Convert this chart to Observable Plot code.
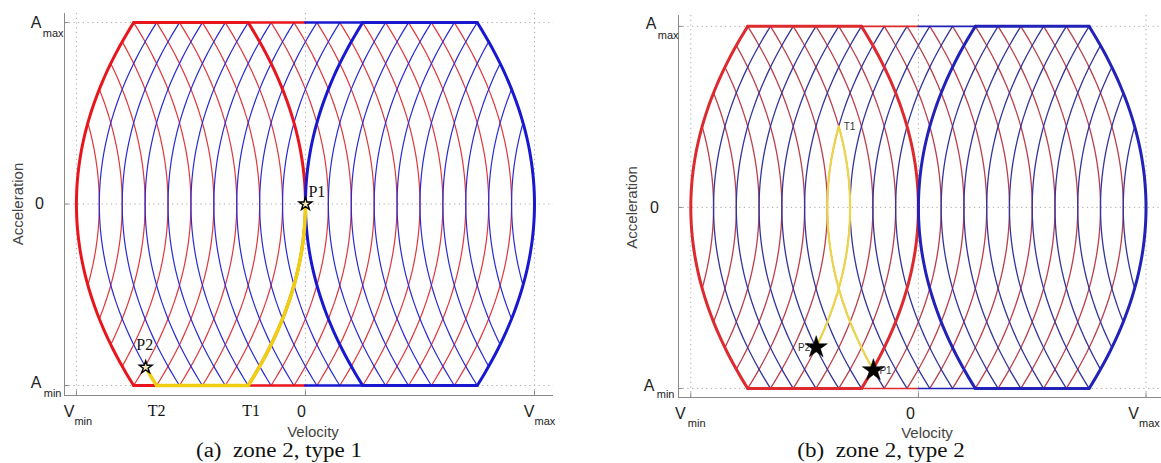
<!DOCTYPE html>
<html><head><meta charset="utf-8">
<script src="https://cdn.jsdelivr.net/npm/d3@7"></script>
<script src="https://cdn.jsdelivr.net/npm/@observablehq/plot@0.6"></script>
<style>
html,body{margin:0;padding:0;background:#fff}
body{width:1161px;height:463px;position:relative;overflow:hidden}
.panel{position:absolute;top:0}
.cap{position:absolute;top:439px;font-family:"Liberation Serif","Times New Roman",serif;font-size:20px;line-height:22px;color:#111;white-space:pre;transform:translateX(-50%) scaleX(1.15)}
</style></head><body>
<div id="pa" class="panel" style="left:0px"></div>
<div id="pb" class="panel" style="left:580px"></div>
<div class="cap" style="left:279px">(a)  zone 2, type 1</div>
<div class="cap" style="left:881px">(b)  zone 2, type 2</div>
<script>
// ---- data (normalised phase plane: velocity units, acceleration in units of Amax) ----
const V_MIN = -10, V_MAX = 10, A_MIN = -1, A_MAX = 1;
const JERK_SPAN = 2.5;               // velocity change along a jerk curve between a=0 and |a|=Amax
const thinOffsets = [-9,-8,-7,-6,-5,-4,-3,-2,-1,0,1,2,3,4,5,6,7,8,9];
const xTickValues = [V_MIN, 0, V_MAX];
const xTickMain = ["V", "0", "V"];
const xTickSub = ["min", "", "max"];
const yTickValues = [A_MIN, 0, A_MAX];
const yTickMain = ["A", "0", "A"];
const yTickSub = ["min", "", "max"];

// panel (a): trajectory pieces, points and switching labels
const trajA = [
  {kind: "jerk", c: 0, sign: -1, from: 0, to: -1},
  {kind: "sat", a: -1, from: -2.5, to: -6.5},
  {kind: "jerk", c: -9, sign: 1, from: -1, to: -0.9}
];
const starsA = [{label: "P1", v: 0, a: 0}, {label: "P2", v: -6.975, a: -0.9}];
const switchesA = [{label: "T2", v: -6.5}, {label: "T1", v: -2.5}];

// panel (b)
const trajB = [
  {kind: "jerk", c: -3, sign: -1, from: -0.773, to: 0.447},
  {kind: "jerk", c: -4, sign: 1, from: -0.9, to: 0.447}
];
const starsB = [{label: "P2", v: -4.49, a: -0.773}, {label: "P1", v: -1.975, a: -0.9}];
const switchesB = [{label: "T1", v: -3.5, a: 0.447}];

// ---- helpers ----
function jerkCurve(c, sign, from, to, id, n = 60) {
  return d3.range(n + 1).map(i => {
    const a = from + (to - from) * i / n;
    return {id, v: c + sign * JERK_SPAN * a * a, a};
  });
}
function satLine(a, from, to, id) { return [{id, v: from, a}, {id, v: to, a}]; }

const SANS = "'Liberation Sans', Arial, Helvetica, sans-serif";
const SERIF = "'Liberation Serif', 'Times New Roman', serif";

function buildPanel(cfg) {
  const J = JERK_SPAN;
  const {xLim, yLim, col, lw, L} = cfg;
  const thinR = thinOffsets.flatMap(c => {
    const l = Math.sqrt(Math.min(1, (c - V_MIN) / (2 * J)));
    return jerkCurve(c, -1, -l, l, "r" + c);
  });
  const thinB = thinOffsets.flatMap(c => {
    const l = Math.sqrt(Math.min(1, (V_MAX - c) / (2 * J)));
    return jerkCurve(c, 1, -l, l, "b" + c);
  });
  const redMain = [...jerkCurve(V_MIN, 1, -1, 1, "rl"), ...jerkCurve(0, -1, -1, 1, "rr"),
    ...satLine(A_MAX, V_MIN + J, -J, "rt"), ...satLine(A_MIN, V_MIN + J, -J, "rb")];
  const redMid = [...satLine(A_MAX, -J, 0, "rmt"), ...satLine(A_MIN, -J, 0, "rmb")];
  const blueMain = [...jerkCurve(0, 1, -1, 1, "bl"), ...jerkCurve(V_MAX, -1, -1, 1, "br"),
    ...satLine(A_MAX, J, V_MAX - J, "bt"), ...satLine(A_MIN, J, V_MAX - J, "bb")];
  const blueMid = [...satLine(A_MAX, 0, J, "bmt"), ...satLine(A_MIN, 0, J, "bmb")];
  const yellow = cfg.traj.flatMap((p, i) => p.kind === "jerk"
    ? jerkCurve(p.c, p.sign, p.from, p.to, "y" + i)
    : satLine(p.a, p.from, p.to, "y" + i));

  const ln = (data, stroke, w) => Plot.line(data, {x: "v", y: "a", z: "id", stroke, strokeWidth: w, strokeLinejoin: "round", strokeLinecap: "round"});
  const x0 = xLim[0], y0 = yLim[0];
  const tickLbl = [];
  yTickValues.forEach((val, i) => {
    const o = L.y[i];
    tickLbl.push(Plot.text([val], {x: () => x0, y: d => d, text: () => yTickMain[i], textAnchor: yTickSub[i] ? "end" : "middle",
      dx: o.dx, dy: o.dy, fontSize: 16, fontFamily: SANS, fill: "#222"}));
    if (yTickSub[i]) tickLbl.push(Plot.text([val], {x: () => x0, y: d => d, text: () => yTickSub[i], textAnchor: "end",
      dx: o.sdx, dy: o.sdy, fontSize: 11, fontFamily: SANS, fill: "#222"}));
  });
  xTickValues.forEach((val, i) => {
    const o = L.x[i];
    tickLbl.push(Plot.text([val], {x: d => d, y: () => y0, text: () => xTickMain[i], textAnchor: xTickSub[i] ? "end" : "middle",
      dx: o.dx, dy: o.dy, fontSize: 16, fontFamily: SANS, fill: "#222"}));
    if (xTickSub[i]) tickLbl.push(Plot.text([val], {x: d => d, y: () => y0, text: () => xTickSub[i], textAnchor: "start",
      dx: o.sdx, dy: o.sdy, fontSize: 11, fontFamily: SANS, fill: "#222"}));
  });

  const starMarks = cfg.stars.map((s, i) => [
    Plot.dot([s], {x: "v", y: "a", symbol: "star", r: cfg.starR, fill: cfg.starFill, stroke: "#000", strokeWidth: cfg.starStroke}),
    Plot.text([s], {x: "v", y: "a", text: "label", dx: L.p[i].dx, dy: L.p[i].dy, textAnchor: L.p[i].anchor,
      fontSize: L.pSize, fontFamily: L.pFont, fill: L.pFill})
  ]).flat();

  const switchMarks = cfg.switches.map((s, i) => Plot.text([s], {x: "v", y: d => d.a === undefined ? y0 : d.a, text: "label",
    dx: L.t[i].dx, dy: L.t[i].dy, textAnchor: L.t[i].anchor, fontSize: L.pSize, fontFamily: L.pFont, fill: L.pFill}));

  return Plot.plot({
    width: cfg.width, height: cfg.height,
    marginLeft: cfg.mL, marginRight: cfg.mR, marginTop: cfg.mT, marginBottom: cfg.mB,
    x: {domain: xLim, axis: null}, y: {domain: yLim, axis: null},
    style: {background: "transparent", overflow: "visible"},
    marks: [
      Plot.ruleX(xTickValues, {stroke: "#a8a8a8", strokeDasharray: "1.2,3.5", strokeWidth: 1}),
      Plot.ruleY(yTickValues, {stroke: "#a8a8a8", strokeDasharray: "1.2,3.5", strokeWidth: 1}),
      Plot.ruleX([x0], {stroke: "#8a8a8a", strokeWidth: 1}),
      Plot.ruleY([y0], {stroke: "#8a8a8a", strokeWidth: 1}),
      Plot.ruleX(xTickValues, {y1: y0, y2: y0 + 0.025, stroke: "#8a8a8a"}),
      Plot.ruleY(yTickValues, {x1: x0, x2: x0 + 0.2, stroke: "#8a8a8a"}),
      ln(thinR, col.thinR, lw.thin),
      ln(thinB, col.thinB, lw.thin),
      ln(redMid, col.red, lw.mid),
      ln(blueMid, col.blue, lw.mid),
      ln(redMain, col.red, lw.thick),
      ln(blueMain, col.blue, lw.thick),
      ln(yellow, col.yellow, lw.yellow),
      ...starMarks,
      ...switchMarks,
      ...tickLbl,
      Plot.text(["Velocity"], {x: () => (xLim[0] + xLim[1]) / 2, y: () => y0, text: d => d, dx: L.vel.dx, dy: L.vel.dy,
        fontSize: 15, fontFamily: SANS, fill: "#444"}),
      Plot.text(["Acceleration"], {x: () => x0, y: () => 0, text: d => d, dx: L.acc.dx, rotate: -90,
        fontSize: 15, fontFamily: SANS, fill: "#444"})
    ]
  });
}

const panelA = buildPanel({
  xLim: [-10.52, 10.83], yLim: [-1.055, 1.05],
  width: 580, height: 440, mL: 64, mR: 27, mT: 13, mB: 45,
  col: {thinR: "#e0363c", thinB: "#2a2ad4", red: "#e8161c", blue: "#1818d0", yellow: "#f0cf10"},
  lw: {thin: 1.2, mid: 2.5, thick: 3, yellow: 3.5},
  traj: trajA, stars: starsA, switches: switchesA,
  starR: 4, starFill: "#f4e8b8", starStroke: 1.4,
  L: {
    y: [{dx: -23, dy: -3, sdx: -3, sdy: 8}, {dx: -25, dy: 0}, {dx: -23, dy: 0, sdx: -1, sdy: 11}],
    x: [{dx: -2, dy: 16, sdx: -2, sdy: 26}, {dx: -4, dy: 16}, {dx: 0, dy: 16, sdx: 0, sdy: 26}],
    p: [{dx: 3, dy: -12, anchor: "start"}, {dx: -1, dy: -22, anchor: "middle"}],
    t: [{dx: 0, dy: 15, anchor: "middle"}, {dx: 3, dy: 15, anchor: "middle"}],
    pSize: 16, pFont: SERIF, pFill: "#111",
    vel: {dx: 4, dy: 37}, acc: {dx: -46}
  }
});
document.getElementById("pa").appendChild(panelA);

const panelB = buildPanel({
  xLim: [-10.54, 10.68], yLim: [-1.05, 1.06],
  width: 581, height: 440, mL: 98, mR: 0, mT: 15, mB: 43,
  col: {thinR: "#bb3f4c", thinB: "#34349c", red: "#dc2a2e", blue: "#2222b8", yellow: "#ecd54a"},
  lw: {thin: 1.3, mid: 1.6, thick: 3, yellow: 2.2},
  traj: trajB, stars: starsB, switches: switchesB,
  starR: 7, starFill: "#000", starStroke: 0.5,
  L: {
    y: [{dx: -24, dy: -3, sdx: -4, sdy: 6}, {dx: -24, dy: 0}, {dx: -22, dy: -2, sdx: 0, sdy: 9}],
    x: [{dx: -5, dy: 16, sdx: -3, sdy: 26}, {dx: -8, dy: 16}, {dx: -7, dy: 16, sdx: -7, sdy: 26}],
    p: [{dx: -6, dy: 0, anchor: "end"}, {dx: 6, dy: 0, anchor: "start"}],
    t: [{dx: 5, dy: 0, anchor: "start"}],
    pSize: 10, pFont: SANS, pFill: "#333",
    vel: {dx: 7, dy: 36}, acc: {dx: -46}
  }
});
document.getElementById("pb").appendChild(panelB);
</script>
</body></html>
